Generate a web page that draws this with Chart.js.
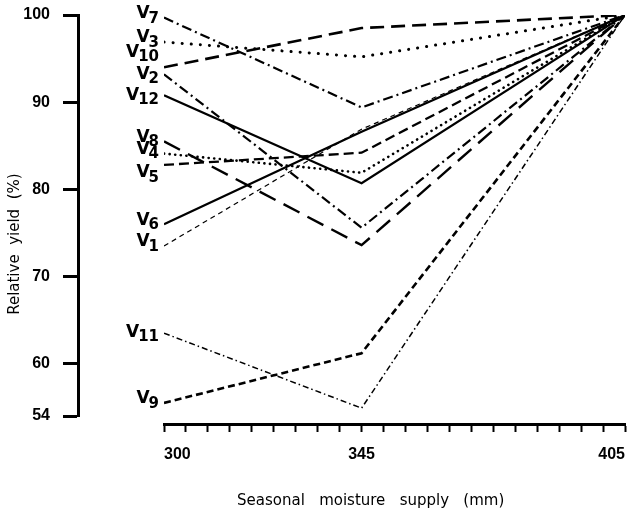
<!DOCTYPE html>
<html>
<head>
<meta charset="utf-8">
<title>Relative yield vs seasonal moisture supply</title>
<script src="https://cdn.jsdelivr.net/npm/chart.js@4.4.1/dist/chart.umd.min.js"></script>
<style>
    html, body { margin: 0; padding: 0; background: #fff; }
</style>
</head>
<body>
<canvas id="yieldChart" width="632" height="516"></canvas>
<script>
// Seasonal moisture supply (mm) at which yield was measured
const moisture = [300, 345, 405];

// Relative yield (%) per variety
const v1 = [73.5, 86.9, 100];
const v2 = [93.2, 75.6, 100];
const v3 = [96.9, 95.2, 100];
const v4 = [84.1, 81.9, 100];
const v5 = [82.8, 84.2, 100];
const v6 = [76.0, 86.6, 100];
const v7 = [99.7, 89.4, 100];
const v8 = [85.5, 73.6, 100];
const v9 = [55.5, 61.2, 100];
const v10 = [94.0, 98.5, 100];
const v11 = [63.5, 54.9, 100];
const v12 = [90.8, 80.7, 100];

// Axis ticks
const yTicks = [54, 60, 70, 80, 90, 100];
const xLabels = [300, 345, 405];
const xMinorStep = 5;

const series = { V1: v1, V2: v2, V3: v3, V4: v4, V5: v5, V6: v6, V7: v7, V8: v8, V9: v9, V10: v10, V11: v11, V12: v12 };

// Line styles (black & white figure)
const lineStyles = {
    V1:  { width: 1.2, dash: [5, 4] },
    V2:  { width: 2.2, dash: [10, 4, 2, 4] },
    V3:  { width: 3,   dash: [0.1, 9], cap: 'round' },
    V4:  { width: 2.6, dash: [0.1, 5.5], cap: 'round' },
    V5:  { width: 2.3, dash: [10, 5] },
    V6:  { width: 2.2, dash: [] },
    V7:  { width: 2.2, dash: [10, 4, 2, 4] },
    V8:  { width: 2.4, dash: [18, 9] },
    V9:  { width: 2.6, dash: [7, 4] },
    V10: { width: 2.6, dash: [14, 7] },
    V11: { width: 1.5, dash: [6, 3, 1.5, 3] },
    V12: { width: 2.2, dash: [] }
};

// vertical nudge of each variety label relative to its line start
const labelShift = { V10: -15, V5: 8, V2: 0, V12: 0, V11: -1 };

const datasets = Object.keys(series).map(function(name) {
    const st = lineStyles[name];
    return {
        label: name,
        data: moisture.map((m, i) => ({ x: m, y: series[name][i] })),
        borderColor: '#000',
        borderWidth: st.width,
        borderDash: st.dash,
        borderCapStyle: st.cap || 'butt',
        pointRadius: 0,
        tension: 0,
        fill: false
    };
});

// Draws the "V" + subscript number labels left of each line
const varietyLabels = {
    id: 'varietyLabels',
    afterDatasetsDraw(chart) {
        const { ctx } = chart;
        const x = chart.scales.x;
        const y = chart.scales.y;
        ctx.save();
        ctx.fillStyle = '#000';
        ctx.textBaseline = 'middle';
        ctx.textAlign = 'left';
        chart.data.datasets.forEach(function(ds) {
            const first = ds.data[0];
            const right = x.getPixelForValue(first.x) - 5;
            const shift = labelShift[ds.label] !== undefined ? labelShift[ds.label] : -4;
            const cy = y.getPixelForValue(first.y) + shift;
            const num = ds.label.slice(1);
            ctx.font = 'bold 15px "DejaVu Sans"';
            const wNum = ctx.measureText(num).width;
            ctx.fillText(num, right - wNum, cy + 5);
            ctx.font = 'bold 17px "DejaVu Sans"';
            const wV = ctx.measureText('V').width;
            ctx.fillText('V', right - wNum - wV + 1, cy);
        });
        ctx.restore();
    }
};

const tickFont = { family: '"Liberation Sans"', size: 16, weight: 'bold' };
const titleFont = { family: '"DejaVu Sans"', size: 15 };

new Chart(document.getElementById('yieldChart'), {
    type: 'line',
    data: { datasets: datasets },
    plugins: [varietyLabels],
    options: {
        responsive: false,
        animation: false,
        devicePixelRatio: 1,
        layout: { padding: { top: 15, right: 7, left: 0, bottom: 0 } },
        plugins: {
            legend: { display: false },
            tooltip: { enabled: false }
        },
        scales: {
            x: {
                type: 'linear',
                position: 'bottom',
                weight: 1,
                min: moisture[0],
                max: moisture[moisture.length - 1],
                afterBuildTicks: function(scale) {
                    const ticks = [];
                    for (let v = scale.min; v <= scale.max; v += xMinorStep) ticks.push({ value: v });
                    scale.ticks = ticks;
                },
                afterFit: function(scale) {
                    scale.height = 92;
                    scale.paddingLeft = 0;
                    scale.paddingRight = 0;
                },
                ticks: {
                    autoSkip: false,
                    maxRotation: 0,
                    align: 'inner',
                    padding: 13,
                    color: '#000',
                    font: tickFont,
                    callback: v => xLabels.includes(v) ? String(v) : ''
                },
                grid: {
                    drawOnChartArea: false,
                    tickLength: 8,
                    tickWidth: 2,
                    tickColor: '#000'
                },
                border: { color: '#000', width: 3 },
                title: {
                    display: true,
                    text: 'Seasonal   moisture   supply   (mm)          ',
                    color: '#000',
                    font: titleFont,
                    padding: { top: 0, bottom: 6 }
                }
            },
            xGap: {
                type: 'linear',
                axis: 'x',
                position: 'bottom',
                weight: 0,
                grid: { display: false },
                border: { display: false },
                ticks: { display: false },
                afterFit: function(scale) { scale.height = 8; }
            },
            y: {
                type: 'linear',
                position: 'left',
                weight: 1,
                min: yTicks[0],
                max: yTicks[yTicks.length - 1],
                afterBuildTicks: function(scale) {
                    scale.ticks = yTicks.map(v => ({ value: v }));
                },
                afterFit: function(scale) {
                    scale.width = 78;
                    scale.paddingTop = 0;
                    scale.paddingBottom = 0;
                },
                ticks: {
                    padding: 13,
                    color: '#000',
                    font: tickFont
                },
                grid: {
                    drawOnChartArea: false,
                    tickLength: 15,
                    tickWidth: 3,
                    tickColor: '#000'
                },
                border: { color: '#000', width: 3 },
                title: {
                    display: true,
                    text: 'Relative  yield  (%)            ',
                    color: '#000',
                    font: titleFont,
                    padding: { top: 6, bottom: 0 }
                }
            },
            yGap: {
                type: 'linear',
                axis: 'y',
                position: 'left',
                weight: 0,
                grid: { display: false },
                border: { display: false },
                ticks: { display: false },
                afterFit: function(scale) { scale.width = 86; }
            }
        }
    }
});
</script>
</body>
</html>
